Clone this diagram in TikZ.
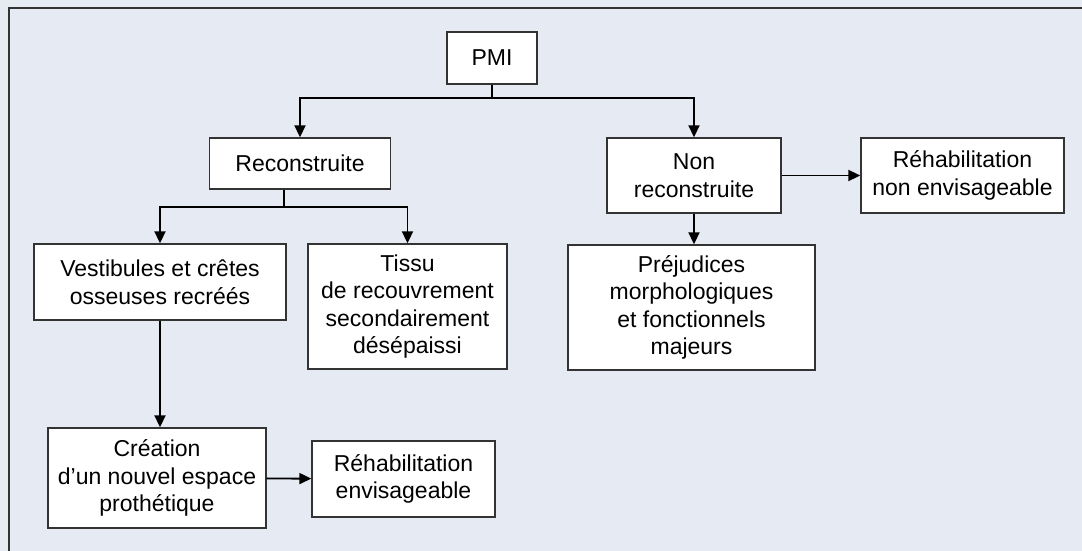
\documentclass[tikz,border=0pt]{standalone}
\usepackage{fontspec}
\setmainfont{Liberation Sans}
\usetikzlibrary{arrows.meta}
\definecolor{bgblue}{HTML}{E6EAF3}
\definecolor{edge}{HTML}{333333}
\tikzset{
  box/.style={draw=edge, line width=1.4pt, fill=white, align=center, inner sep=0pt,
    font=\fontsize{23}{27.5}\selectfont},
  arr/.style={line width=1.9pt, -{Triangle[width=11pt,length=12pt]}},
  lne/.style={line width=1.9pt}
}
\begin{document}
\begin{tikzpicture}[x=1pt,y=-1pt]
  %
  \fill[bgblue] (0,0) rectangle (1082,551);
  \useasboundingbox (0,0) rectangle (1082,551);
  \draw[edge, line width=2pt] (9,551) -- (9,8) -- (1082,8);
  %
  \node[box, minimum width=90pt, minimum height=52pt] (pmi) at (492,58) {PMI};
  \node[box, minimum width=181pt, minimum height=51pt] (reco) at (300,163.5) {Reconstruite};
  \node[box, minimum width=174pt, minimum height=75pt] (nonreco) at (694,175.5) {Non\\reconstruite};
  \node[box, minimum width=203pt, minimum height=75pt] (rehabnon) at (962.5,175.5) {Réhabilitation\\non envisageable};
  \node[box, minimum width=252pt, minimum height=76pt] (vest) at (160,282) {Vestibules et crêtes\\osseuses recréés};
  \node[box, minimum width=199pt, minimum height=125pt] (tissu) at (407.5,306.5) {Tissu\\de recouvrement\\secondairement\\désépaissi};
  \node[box, minimum width=247pt, minimum height=125pt] (prej) at (691.5,307.5) {Préjudices\\morphologiques\\et fonctionnels\\majeurs};
  \node[box, minimum width=218pt, minimum height=100pt] (crea) at (157,478) {Création\\d’un nouvel espace\\prothétique};
  \node[box, minimum width=183pt, minimum height=76pt] (rehab) at (403.5,479) {Réhabilitation\\envisageable};
  %
  \coordinate (jpmi) at (492,98);
  \coordinate (jreco) at (284,207);
  %
  \draw[lne] (pmi) -- (jpmi);
  \draw[arr] (jpmi) -| (reco);
  \draw[arr] (jpmi) -| (nonreco);
  %
  \draw[lne] (reco.south -| jreco) -- (jreco);
  \draw[arr] (jreco) -| (vest);
  \draw[arr] (jreco) -| (tissu);
  %
  \draw[arr] (nonreco) -- (rehabnon);
  \draw[arr] (nonreco) -- (nonreco.south |- prej.north);
  \draw[arr] (vest) -- (vest.south |- crea.north);
  \draw[arr] (crea) -- (rehab);
\end{tikzpicture}
\end{document}
